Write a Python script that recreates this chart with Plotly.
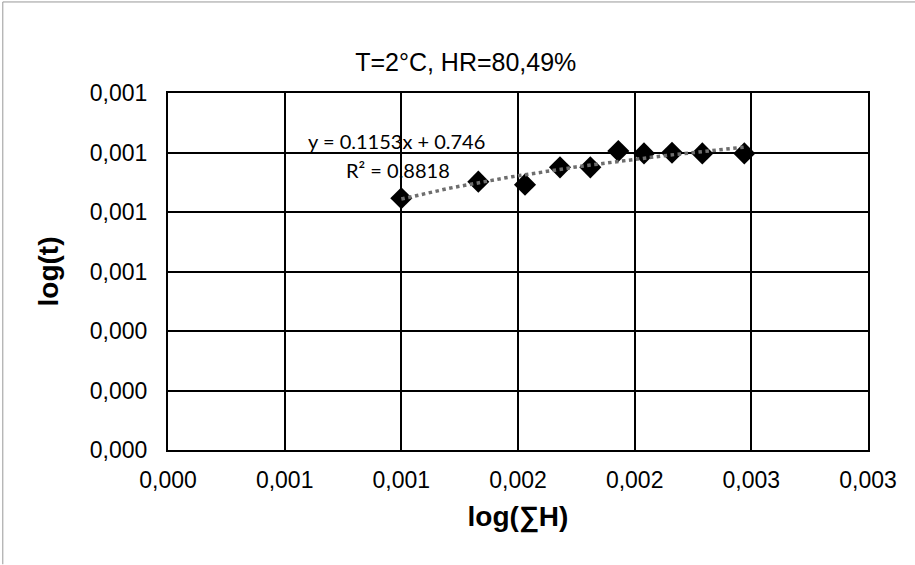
import numpy as np
import plotly.graph_objects as go

# data
x_vals = [0.00100, 0.00133, 0.00153, 0.00168, 0.00181, 0.00193, 0.00204, 0.00216, 0.00229, 0.00247]
y_vals = [0.000846, 0.000902, 0.000892, 0.000950, 0.000950, 0.001005, 0.000997, 0.000999, 0.000997, 0.000997]

x_tick_vals = [0.0, 0.0005, 0.0010, 0.0015, 0.0020, 0.0025, 0.0030]
x_tick_text = ["0,000", "0,001", "0,001", "0,002", "0,002", "0,003", "0,003"]
y_tick_vals = [0.0, 0.0002, 0.0004, 0.0006, 0.0008, 0.0010, 0.0012]
y_tick_text = ["0,000", "0,000", "0,000", "0,001", "0,001", "0,001", "0,001"]

title_text = "T=2°C, HR=80,49%"
eq_text = "y = 0.1153x + 0.746"
r2_text = "R² = 0.8818"

# logarithmic trendline fitted from the data
xa = np.array(x_vals)
ya = np.array(y_vals)
coef = np.polyfit(np.log(xa), ya, 1)
x_fit = np.linspace(xa.min(), xa.max(), 60)
y_fit = coef[0] * np.log(x_fit) + coef[1]

fig = go.Figure()
fig.add_trace(go.Scatter(
    x=x_vals, y=y_vals, mode="markers",
    marker=dict(symbol="diamond", size=17, color="black"),
    showlegend=False))
fig.add_trace(go.Scatter(
    x=x_fit, y=y_fit, mode="lines",
    line=dict(color="#6e6e6e", width=3.5, dash="dot"),
    showlegend=False))

axis_common = dict(
    showgrid=True, gridcolor="black", gridwidth=2,
    showline=True, linecolor="black", linewidth=2, mirror=True,
    zeroline=False, ticks="",
    tickfont=dict(family="Liberation Sans, Arial", size=23, color="black"),
)

fig.update_xaxes(range=[0, 0.003], tickmode="array", tickvals=x_tick_vals, ticktext=x_tick_text,
                 ticklabelstandoff=8,
                 title=dict(text="<b>log(∑H)</b>", font=dict(family="Liberation Sans, Arial", size=28, color="black"), standoff=15),
                 **axis_common)
fig.update_yaxes(range=[0, 0.0012], tickmode="array", tickvals=y_tick_vals, ticktext=y_tick_text,
                 ticklabelstandoff=14,
                 title=dict(text="<b>log(t)</b>", font=dict(family="Liberation Sans, Arial", size=28, color="black"), standoff=23),
                 **axis_common)

fig.add_annotation(x=0.000981, y=0.001039, xref="x", yref="y", text=eq_text, showarrow=False,
                   font=dict(family="Lato, Carlito, Calibri", size=20, color="black"))
fig.add_annotation(x=0.000986, y=0.000941, xref="x", yref="y", text=r2_text, showarrow=False,
                   font=dict(family="Lato, Carlito, Calibri", size=20, color="black"))

# faint outer frame (top and left edges of the scanned figure)
fig.add_shape(type="line", xref="paper", yref="paper", x0=-0.236, x1=1.07, y0=1.255, y1=1.255,
              line=dict(color="#999999", width=1))
fig.add_shape(type="line", xref="paper", yref="paper", x0=-0.236, x1=-0.236, y0=-0.32, y1=1.255,
              line=dict(color="#999999", width=1))

fig.update_layout(
    width=915, height=565,
    margin=dict(l=168, r=47, t=93, b=115),
    paper_bgcolor="white", plot_bgcolor="white",
    title=dict(text=title_text, x=0.509, xanchor="center", y=0.89, yanchor="middle",
               font=dict(family="Liberation Sans, Arial", size=25, color="black")),
)

fig.write_html("out.html", config={"displayModeBar": False},
               post_script="document.body.style.margin='0';")
